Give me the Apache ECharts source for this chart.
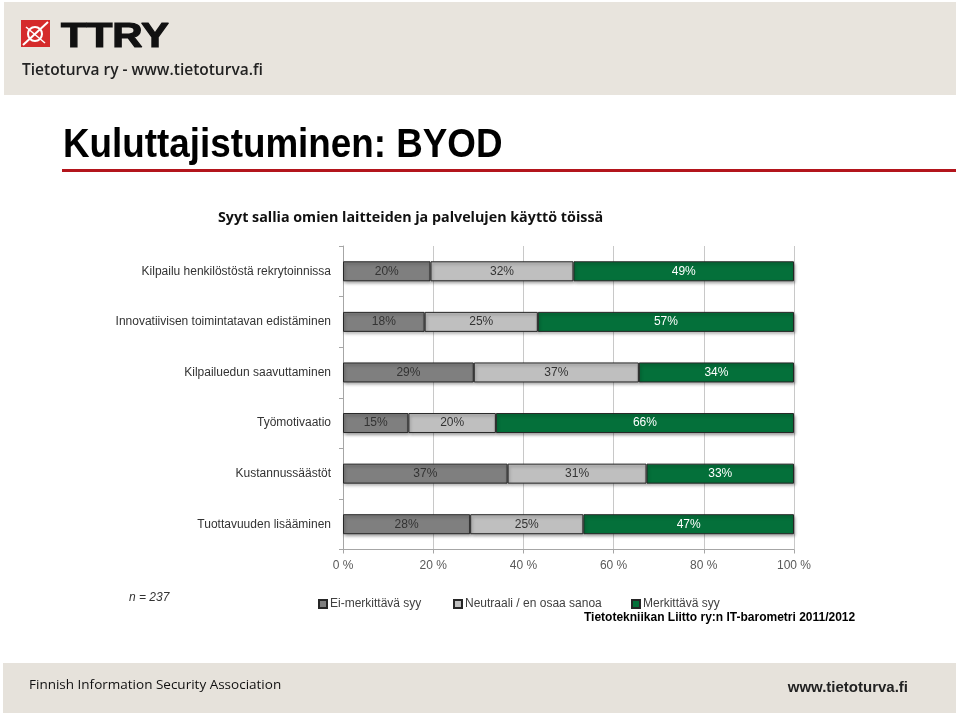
<!DOCTYPE html>
<html>
<head>
<meta charset="utf-8">
<script src="https://cdn.jsdelivr.net/npm/echarts@6/dist/echarts.min.js"></script>
<style>
html,body{margin:0;padding:0;background:#fff;}
#c{width:960px;height:716px;}
</style>
</head>
<body>
<div id="c"></div>
<script>
// ---- data ----
var categories = ['Kilpailu henkilöstöstä rekrytoinnissa','Innovatiivisen toimintatavan edistäminen','Kilpailuedun saavuttaminen','Työmotivaatio','Kustannussäästöt','Tuottavuuden lisääminen'];
var seriesNames = ['Ei-merkittävä syy','Neutraali / en osaa sanoa','Merkittävä syy'];
var eiMerkittava = [19.4, 18.1, 29.0, 14.5, 36.5, 28.2];
var neutraali = [31.7, 25.1, 36.6, 19.4, 30.8, 25.1];
var merkittava = [48.9, 56.8, 34.4, 66.1, 32.7, 46.7];
var eiLabels = ['20%','18%','29%','15%','37%','28%'];
var neutLabels = ['32%','25%','37%','20%','31%','25%'];
var merkLabels = ['49%','57%','34%','66%','33%','47%'];

var FONT = "'Liberation Sans',Arial,sans-serif";
var chart = echarts.init(document.getElementById('c'), null, {renderer:'canvas'});

function mkSeries(name, vals, labs, color, labColor){
  return {
    name: name, type:'bar', stack:'s', barWidth:20,
    data: vals,
    itemStyle:{color:color, borderColor:'#262626', borderWidth:1,
      shadowColor:'rgba(0,0,0,0.35)', shadowBlur:3, shadowOffsetY:2, shadowOffsetX:1},
    label:{show:true, position:'inside', color:labColor, fontFamily:FONT, fontSize:12,
      formatter:function(p){return labs[p.dataIndex];}},
    emphasis:{disabled:true}, animation:false
  };
}

var legendCommon = {itemWidth:8, itemHeight:8, itemGap:4, icon:'rect', selectedMode:false,
  textStyle:{color:'#404040', fontFamily:FONT, fontSize:12, padding:[0,0,0,-2]}};

var option = {
  backgroundColor:'#fff',
  animation:false,
  grid:{left:343, right:166, top:246, height:303.5},
  xAxis:{type:'value', min:0, max:100, interval:20,
    axisLine:{show:true, lineStyle:{color:'#a6a6a6'}},
    axisTick:{show:true, length:4, lineStyle:{color:'#a6a6a6'}},
    axisLabel:{formatter:'{value} %', color:'#595959', fontFamily:FONT, fontSize:12, margin:10},
    splitLine:{show:true, lineStyle:{color:'#c8c8c8'}}},
  yAxis:{type:'category', data:categories, inverse:true,
    axisLine:{show:true, lineStyle:{color:'#a6a6a6'}},
    axisTick:{show:true, length:4, lineStyle:{color:'#a6a6a6'}},
    axisLabel:{color:'#333', fontFamily:FONT, fontSize:12, margin:12}},
  legend:[
    Object.assign({data:[seriesNames[0]], left:313, top:593}, legendCommon),
    Object.assign({data:[seriesNames[1]], left:448, top:593}, legendCommon),
    Object.assign({data:[seriesNames[2]], left:626, top:593}, legendCommon)
  ],
  series:[
    mkSeries(seriesNames[0], eiMerkittava, eiLabels, '#7f7f7f', '#333'),
    mkSeries(seriesNames[1], neutraali, neutLabels, '#bfbfbf', '#333'),
    mkSeries(seriesNames[2], merkittava, merkLabels, '#04703a', '#fff')
  ],
  graphic:[
    // header band
    {type:'rect', shape:{x:4, y:2, width:952, height:93}, style:{fill:'#e8e4dd'}, silent:true},
    // logo
    {type:'rect', shape:{x:21, y:20, width:29, height:27}, style:{fill:'#d52b2b'}, silent:true},
    {type:'circle', shape:{cx:35, cy:34, r:7}, style:{fill:'none', stroke:'#fff', lineWidth:2}, silent:true},
    {type:'line', shape:{x1:23, y1:45, x2:48, y2:22}, style:{stroke:'#fff', lineWidth:2}, silent:true},
    {type:'line', shape:{x1:26, y1:27, x2:45, y2:43}, style:{stroke:'#fff', lineWidth:1.5}, silent:true},
    {type:'text', x:61, y:20, scaleX:1.2, style:{text:'TTRY', font:"bold 35px 'Liberation Sans',Arial,sans-serif", fill:'#111', stroke:'#111', lineWidth:1.2}, silent:true},
    {type:'text', left:22, top:63, style:{text:'Tietoturva ry - www.tietoturva.fi', font:"600 15.5px 'Open Sans',sans-serif", fill:'#222'}, silent:true},
    // title
    {type:'text', x:63, y:126, scaleX:0.92, style:{text:'Kuluttajistuminen: BYOD', font:"bold 40px 'Liberation Sans',Arial,sans-serif", fill:'#000'}, silent:true},
    {type:'rect', shape:{x:62, y:169, width:894, height:3}, style:{fill:'#b3151c'}, silent:true},
    // chart title
    {type:'text', left:218, top:211, style:{text:'Syyt sallia omien laitteiden ja palvelujen käyttö töissä', font:"bold 14.3px 'Open Sans',sans-serif", fill:'#111'}, silent:true},
    // n
    {type:'text', left:129, top:592, style:{text:'n = 237', font:"italic 12px "+FONT, fill:'#333'}, silent:true},
    // source
    {type:'text', left:584, top:612, style:{text:'Tietotekniikan Liitto ry:n IT-barometri 2011/2012', font:"bold 12px 'Liberation Sans',Arial,sans-serif", fill:'#000'}, silent:true},
    // footer
    {type:'rect', shape:{x:3, y:663, width:953, height:50}, style:{fill:'#e6e2db'}, silent:true},
    {type:'text', left:29, top:678, style:{text:'Finnish Information Security Association', font:"13.5px 'Open Sans',sans-serif", fill:'#111'}, silent:true},
    {type:'text', right:52, top:680, style:{text:'www.tietoturva.fi', font:"bold 15px 'Liberation Sans',sans-serif", fill:'#222'}, silent:true}
  ]
};
chart.setOption(option);
</script>
</body>
</html>
